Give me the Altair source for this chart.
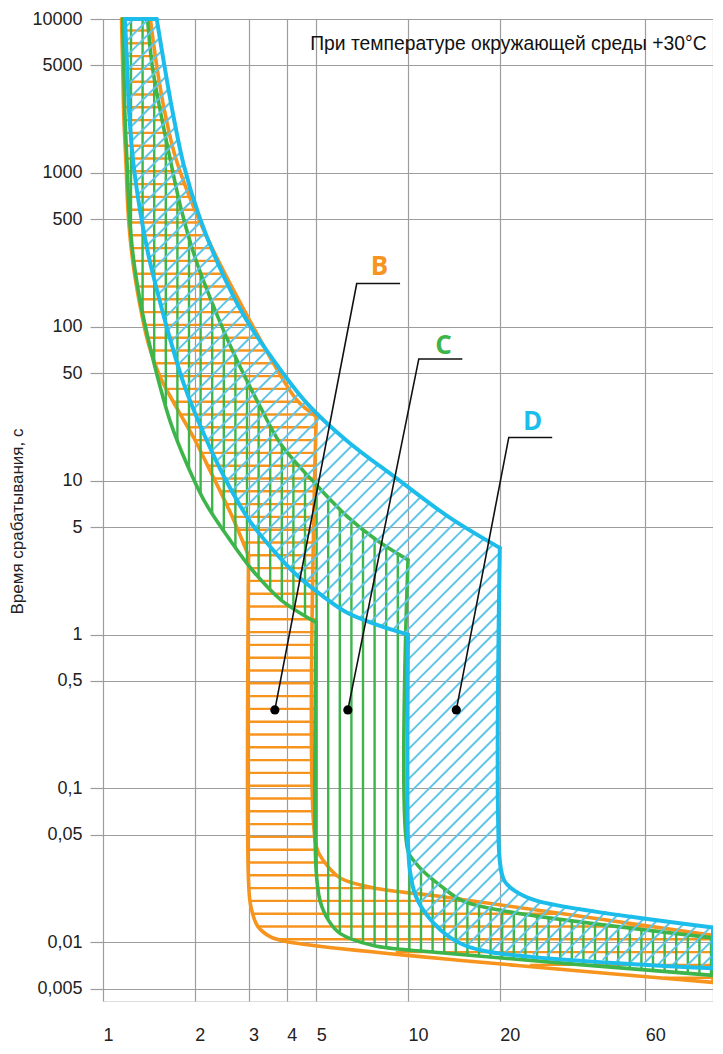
import numpy as np
import pandas as pd
import altair as alt

# ---------------- data ----------------
# x = I / In (current multiple), t = tripping time, s
B_LOW_X = [1.15, 1.16, 1.17, 1.19, 1.21, 1.25, 1.32, 1.41, 1.55, 1.75, 1.99, 2.25, 2.62, 3.0,
           3.0, 3.05, 3.21, 3.53, 4.01, 100]
B_LOW_T = [10000, 4970, 2363, 1123, 534, 273, 140, 77.2, 45.9, 29.4, 18.8, 11.5, 6.16, 3.25,
           0.0251, 0.0173, 0.0128, 0.0109, 0.0101, 0.0055]
B_HIGH_X = [100, 12.5, 8.0, 6.0, 5.3, 5.0, 5.0, 4.34, 3.88, 3.27, 2.67, 2.25, 1.94, 1.72, 1.59, 1.50, 1.43]
B_HIGH_T = [0.0111, 0.0200, 0.0223, 0.0262, 0.0337, 0.0422, 26.1, 33.1, 45.9, 83.2, 175, 342, 667,
            1303, 2545, 4970, 10000]

C_LOW_X = [1.16, 1.17, 1.18, 1.20, 1.22, 1.26, 1.33, 1.42, 1.53, 1.67, 1.88, 2.17, 2.58, 3.10, 3.82,
           5.0, 5.0, 5.15, 5.5, 6.0, 7.7, 12.5, 100]
C_LOW_T = [10000, 4970, 2363, 1123, 534, 273, 140, 77.2, 42.6, 23.5, 12.95, 7.14, 4.25, 2.60, 1.69,
           1.20, 0.0291, 0.0186, 0.0138, 0.0114, 0.00953, 0.00859, 0.0061]
C_HIGH_X = [100, 20.7, 15.1, 12.8, 11.2, 10.6, 10, 10, 7.88, 6.30, 4.95, 3.82, 3.30, 2.69, 2.29, 1.99,
            1.79, 1.65, 1.54, 1.45, 1.40]
C_HIGH_T = [0.0107, 0.0160, 0.0186, 0.0233, 0.0291, 0.0328, 0.0392, 3.06, 4.12, 5.89, 9.62, 17.4,
            29.4, 66.5, 140, 294, 619, 1303, 2545, 4970, 10000]

D_LOW_X = [1.18, 1.20, 1.22, 1.26, 1.33, 1.42, 1.53, 1.66, 1.84, 2.14, 2.54, 3.03, 3.63, 4.34, 5.23,
           6.30, 7.88, 10, 10, 10.15, 10.6, 11.7, 13.8, 17.5, 100]
D_LOW_T = [10000, 4970, 2363, 1123, 534, 273, 151, 83.2, 42.6, 20.2, 9.91, 5.47, 3.50, 2.41, 1.79,
           1.39, 1.16, 1.0, 0.0455, 0.0291, 0.0200, 0.0145, 0.0107, 0.00885, 0.00678]
D_HIGH_X = [100, 26.5, 22.4, 20.7, 20, 20, 13.78, 9.15, 6.30, 4.68, 3.60, 2.88, 2.39, 2.06, 1.84,
            1.70, 1.59, 1.50]
D_HIGH_T = [0.0125, 0.0186, 0.0216, 0.0251, 0.0337, 3.66, 5.71, 10.4, 18.2, 31.6, 61.8, 120.6, 254,
            534, 1123, 2363, 4970, 10000]

# index where each boundary turns into its vertical (instantaneous) part
B_BREAK, C_BREAK, D_BREAK = (13, 6), (15, 7), (17, 5)

# callouts
LABELS = ["B", "C", "D"]
LABEL_X = [8.06, 13.08, 25.6]
LABEL_T = [243, 75, 24.2]
DOT_X = [3.66, 6.35, 14.4]
DOT_T = [0.324, 0.324, 0.324]
CORNER_X = [6.79, 10.85, 21.4]
CORNER_T = [191, 61.8, 19.1]
END_X = [9.42, 15.07, 29.7]

X_TICKS = [1, 2, 3, 4, 5, 10, 20, 60, 100]
Y_TICKS = [10000, 5000, 1000, 500, 100, 50, 10, 5, 1, 0.5, 0.1, 0.05, 0.01, 0.005]
NOTE = "При температуре окружающей среды +30°C"
NOTE_X, NOTE_T = 4.78, 6895
Y_TITLE = "Время срабатывания, с"

# ---------------- styles ----------------
ORANGE, GREEN, BLUE, BLUE_H = "#F7941D", "#3DB54A", "#1DBDEB", "#5EC5E6"
GRID = "#9d9d9d"
W, H = 610, 982
X_DOM = [1, 100]
Y_DOM = [0.00416, 10000]
SX = W / (np.log10(X_DOM[1]) - np.log10(X_DOM[0]))
SY = H / (np.log10(Y_DOM[1]) - np.log10(Y_DOM[0]))


def to_uv(xs, ts):
    return np.column_stack([np.log10(xs) * SX, np.log10(ts) * SY])


def hatch(lx, lt, hx, ht, normal, direction, step, phase):
    P = to_uv(list(lx) + list(hx), list(lt) + list(ht))
    nrm = np.array(normal, float)
    drc = np.array(direction, float)
    s = P @ nrm
    n = len(P)
    rows = []
    k0 = int(np.ceil((s.min() - phase) / step))
    k1 = int(np.floor((s.max() - phase) / step))
    for k in range(k0, k1 + 1):
        c = phase + k * step
        pts = []
        for i in range(n):
            a, b = P[i], P[(i + 1) % n]
            sa, sb = s[i], s[(i + 1) % n]
            if (sa <= c < sb) or (sb <= c < sa):
                r = (c - sa) / (sb - sa)
                pts.append(a + r * (b - a))
        pts.sort(key=lambda p: p @ drc)
        for j in range(0, len(pts) - 1, 2):
            p, q = pts[j], pts[j + 1]
            rows.append({"x": 10 ** (p[0] / SX), "t": 10 ** (p[1] / SY),
                         "x2": 10 ** (q[0] / SX), "t2": 10 ** (q[1] / SY)})
    return pd.DataFrame(rows)


def outline(lx, lt, hx, ht, brk):
    lb, hb = brk
    segs = [
        [(lx[0], lt[0]), (hx[-1], ht[-1])],
        list(zip(lx[:lb + 1], lt[:lb + 1])),
        list(zip(lx[lb:], lt[lb:])),
        [(lx[-1], lt[-1]), (hx[0], ht[0])],
        list(zip(hx[:hb + 1], ht[:hb + 1])),
        list(zip(hx[hb:], ht[hb:])),
    ]
    rows = []
    for i, sg in enumerate(segs):
        for j, (x, t) in enumerate(sg):
            rows.append({"seg": i, "ord": j, "x": x, "t": t})
    return pd.DataFrame(rows)


XS = alt.Scale(type="log", domain=X_DOM, nice=False)
YS = alt.Scale(type="log", domain=Y_DOM, nice=False)
XAXIS = alt.Axis(values=X_TICKS, grid=True, gridColor=GRID, gridWidth=1.2, ticks=False,
                 domain=False, labelExpr="datum.value == 100 ? '' : datum.label",
                 labelAlign="left", labelFlush=False, labelOverlap=False, labelPadding=25,
                 labelFont="Liberation Sans", labelFontSize=18, labelColor="#222", title=None)
YAXIS = alt.Axis(values=Y_TICKS, grid=True, gridColor=GRID, gridWidth=1.2, ticks=True,
                 tickSize=13, tickColor=GRID, tickWidth=1.2, domain=False,
                 labelExpr="replace(toString(datum.value), '.', ',')", labelPadding=8,
                 labelOverlap=False, labelFlush=False,
                 labelFont="Liberation Sans", labelFontSize=18, labelColor="#222",
                 title=Y_TITLE, titleFont="Liberation Sans", titleFontSize=17,
                 titleFontWeight="normal", titleColor="#222", titleAngle=270,
                 titleX=-86, titleY=502, titleAlign="center", titleBaseline="middle")


def X(f="x"):
    return alt.X(f"{f}:Q", scale=XS, axis=XAXIS)


def Y(f="t"):
    return alt.Y(f"{f}:Q", scale=YS, axis=YAXIS)


def hatch_layer(df, color, width):
    return alt.Chart(df).mark_rule(color=color, strokeWidth=width).encode(
        x=X(), x2="x2:Q", y=Y(), y2="t2:Q")


def outline_layer(df, color, width):
    return alt.Chart(df).mark_line(interpolate="catmull-rom", color=color, strokeWidth=width,
                                   strokeJoin="round", strokeCap="round").encode(
        x=X(), y=Y(), detail="seg:N", order="ord:Q")


hB = hatch(B_LOW_X, B_LOW_T, B_HIGH_X, B_HIGH_T, (0, 1), (1, 0), 12.8, 245.7)
hC = hatch(C_LOW_X, C_LOW_T, C_HIGH_X, C_HIGH_T, (1, 0), (0, 1), 11.6, 318.0)
hD = hatch(D_LOW_X, D_LOW_T, D_HIGH_X, D_HIGH_T, (-1, 1), (1, 1), 15.0, 0.0)

oB = outline(B_LOW_X, B_LOW_T, B_HIGH_X, B_HIGH_T, B_BREAK)
oC = outline(C_LOW_X, C_LOW_T, C_HIGH_X, C_HIGH_T, C_BREAK)
oD = outline(D_LOW_X, D_LOW_T, D_HIGH_X, D_HIGH_T, D_BREAK)

lead_rows = []
for i, lab in enumerate(LABELS):
    pts = [(DOT_X[i], DOT_T[i]), (CORNER_X[i], CORNER_T[i]), (END_X[i], CORNER_T[i])]
    for j, (x, t) in enumerate(pts):
        lead_rows.append({"lab": lab, "ord": j, "x": x, "t": t})
lead = pd.DataFrame(lead_rows)
dots = pd.DataFrame({"x": DOT_X, "t": DOT_T})
labs = pd.DataFrame({"lab": LABELS, "x": LABEL_X, "t": LABEL_T})
note = pd.DataFrame({"x": [NOTE_X], "t": [NOTE_T], "txt": [NOTE]})

layers = [
    hatch_layer(hB, ORANGE, 2.4),
    outline_layer(oB, ORANGE, 3.6),
    hatch_layer(hC, GREEN, 2.4),
    outline_layer(oC, GREEN, 3.6),
    hatch_layer(hD, BLUE_H, 2.0),
    outline_layer(oD, BLUE, 4.0),
    alt.Chart(lead).mark_line(color="#111", strokeWidth=1.6).encode(
        x=X(), y=Y(), detail="lab:N", order="ord:Q"),
    alt.Chart(dots).mark_circle(size=85, color="#000", opacity=1).encode(x=X(), y=Y()),
    alt.Chart(labs).mark_text(font="Open Sans", fontWeight="bold", fontSize=26,
                              align="center", baseline="middle").encode(
        x=X(), y=Y(), text="lab:N",
        color=alt.Color("lab:N", scale=alt.Scale(domain=LABELS, range=[ORANGE, GREEN, BLUE]),
                        legend=None)),
    alt.Chart(note).mark_text(font="Liberation Sans", fontSize=19.3, align="left",
                              baseline="middle", color="#111").encode(
        x=X(), y=Y(), text="txt:N"),
]

chart = alt.layer(*layers).properties(
    width=W, height=H,
    padding={"left": 95, "top": 11, "right": 0, "bottom": 44},
    autosize=alt.AutoSizeParams(type="none"),
).configure_view(stroke=None).configure(background="white")

chart.save("out.html", embed_options={"renderer": "svg", "actions": False})
